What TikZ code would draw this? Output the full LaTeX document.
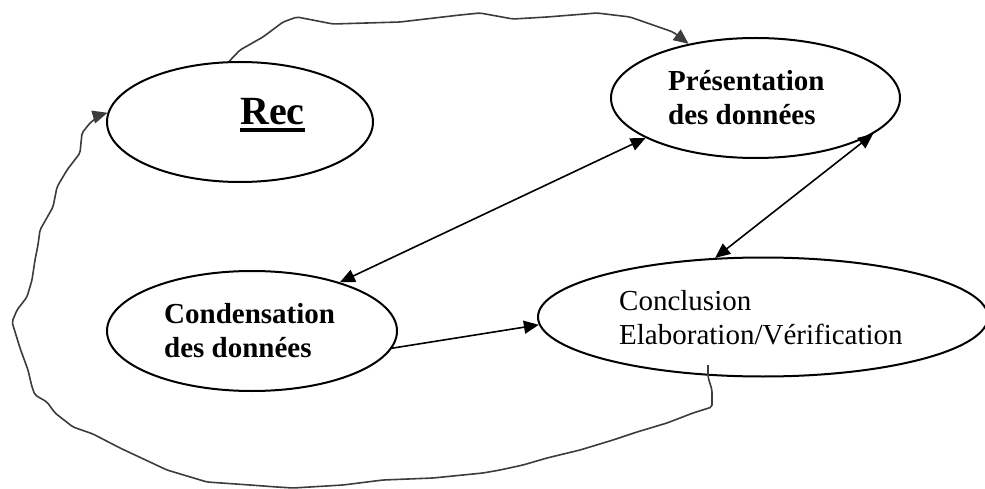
\documentclass[tikz,border=0pt]{standalone}
\usepackage{fontspec}
\setmainfont{Liberation Serif}
\usetikzlibrary{shapes.geometric,arrows.meta}
% thick underline for the title word
\newcommand\thickul[1]{\setbox0\hbox{#1}\rlap{\copy0}\rule[-7.5pt]{\wd0}{4pt}}
\definecolor{loopgray}{HTML}{3C3C3C}
\begin{document}
\begin{tikzpicture}[x=1pt,y=-1pt,
  ell/.style={draw=black,ellipse,line width=2pt,inner sep=0pt},
  lbl/.style={anchor=base west,inner sep=0pt,font=\fontsize{29}{34}\selectfont},
  head/.style={Triangle[length=15pt,width=13pt]},
  link/.style={line width=1.6pt,{Triangle[length=15pt,width=13pt]}-{Triangle[length=15pt,width=13pt]}},
  onelink/.style={line width=1.6pt,-{Triangle[length=15pt,width=13pt]}},
  loop/.style={draw=loopgray,line width=1.6pt,rounded corners=2pt,-{Triangle[length=15pt,width=13pt]}}]
\useasboundingbox (0,0) rectangle (985,489);

% the four stages
\node[ell,minimum width=266pt,minimum height=120pt] (rec) at (240,122) {};
\node[ell,minimum width=289pt,minimum height=120pt] (pres) at (755.5,98) {};
\node[ell,minimum width=290pt,minimum height=120pt] (cond) at (252,331) {};
\node[ell,minimum width=450pt,minimum height=119pt] (concl) at (763,317) {};

% their labels
\node[anchor=base west,inner sep=0pt] (rectxt) at (240,125)
  {\fontsize{40}{40}\selectfont\bfseries\thickul{Rec}};
\node[lbl,font=\fontsize{29}{34}\selectfont\bfseries] (pres1) at (668,91) {Présentation};
\node[lbl,font=\fontsize{29}{34}\selectfont\bfseries] (pres2) at (668,125) {des données};
\node[lbl,font=\fontsize{29}{34}\selectfont\bfseries] (cond1) at (164,323) {Condensation};
\node[lbl,font=\fontsize{29}{34}\selectfont\bfseries] (cond2) at (164,357) {des données};
\node[lbl] (concl1) at (619,310) {Conclusion};
\node[lbl] (concl2) at (619,344) {Elaboration/Vérification};

% straight connectors
\draw[link] (cond.29) -- (pres.200);
\draw[link] (concl.129) -- (pres.-17);
\draw[onelink] (cond.-7.5) -- (concl.182);

% hand-drawn loop from the conclusion back round to Rec
\coordinate (loopstart) at (708,365);
\draw[loop] (loopstart) -- (708,377) -- (712,390) -- (712,407) -- (693,413)
  -- (667,423) -- (637,432) -- (613,440) -- (580,450) -- (547,458) -- (523,465)
  -- (500,470) -- (483,473) -- (433,478) -- (383,480) -- (343,485) -- (293,488)
  -- (277,487) -- (250,485) -- (207,482) -- (167,470) -- (120,448) -- (93,434)
  -- (73,427) -- (55,413) -- (47,402) -- (35,395) -- (32,387) -- (28,370)
  -- (20,348) -- (12,322) -- (17,310) -- (27,297) -- (32,280) -- (35,260)
  -- (38,245) -- (40,230) -- (53,207) -- (57,187) -- (67,170) -- (80,153)
  -- (82,133) -- (90,123) -- (100,115) -- (rec.176);

% hand-drawn link from Rec over the top to the presentation
\draw[loop] (rec.100) -- (240,50) -- (263,37) -- (283,22) -- (297,17) -- (333,24)
  -- (400,22) -- (460,15) -- (480,13) -- (513,19) -- (547,17) -- (597,13)
  -- (630,17) -- (673,32) -- (pres.141);
\end{tikzpicture}
\end{document}
